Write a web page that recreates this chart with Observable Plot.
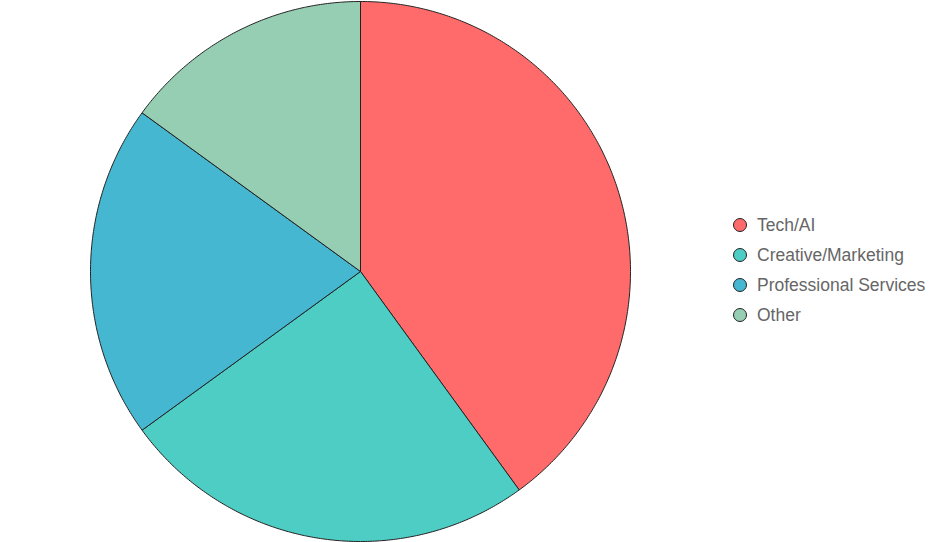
<!DOCTYPE html>
<html><head><meta charset="utf-8">
<script src="https://cdn.jsdelivr.net/npm/d3@7"></script>
<script src="https://cdn.jsdelivr.net/npm/@observablehq/plot@0.6"></script>
<style>
body{margin:0;background:#fff;font-family:"Liberation Sans",Arial,sans-serif;}
#wrap{position:relative;width:939px;height:542px;}
#legend{position:absolute;left:733px;top:210px;}
.item{display:flex;align-items:center;height:30px;font-size:17.5px;color:#666;}
.sw{width:12px;height:12px;border-radius:50%;border:1px solid #222;margin-right:10px;flex:none;}
</style></head>
<body><div id="wrap"><div id="chart"></div><div id="legend"></div></div>
<script>
const categories = ["Tech/AI", "Creative/Marketing", "Professional Services", "Other"];
const values = [40, 25, 20, 15];
const colors = ["#FF6B6B", "#4ECDC4", "#45B7D1", "#96CEB4"];

const total = d3.sum(values);
let acc = 0;
const marks = [];
categories.forEach((c, i) => {
  const a0 = acc / total * 2 * Math.PI;
  acc += values[i];
  const a1 = acc / total * 2 * Math.PI;
  const pts = [{x: 0, y: 0}];
  const n = Math.max(2, Math.ceil((a1 - a0) / (Math.PI / 360)));
  for (let k = 0; k <= n; k++) {
    const a = a0 + (a1 - a0) * k / n;
    pts.push({x: Math.sin(a), y: Math.cos(a)});
  }
  pts.push({x: 0, y: 0});
  marks.push(Plot.line(pts, {x: "x", y: "y", fill: colors[i], stroke: "#222", strokeWidth: 1, curve: "linear"}));
});

const chart = Plot.plot({
  width: 939, height: 542,
  margin: 0,
  x: {domain: [-1, 1], range: [90, 630], axis: null},
  y: {domain: [-1, 1], range: [541, 1], axis: null},
  marks
});
document.getElementById("chart").appendChild(chart);

const legend = document.getElementById("legend");
categories.forEach((c, i) => {
  const it = document.createElement("div");
  it.className = "item";
  const sw = document.createElement("span");
  sw.className = "sw";
  sw.style.background = colors[i];
  it.appendChild(sw);
  it.appendChild(document.createTextNode(c));
  legend.appendChild(it);
});
</script></body></html>
